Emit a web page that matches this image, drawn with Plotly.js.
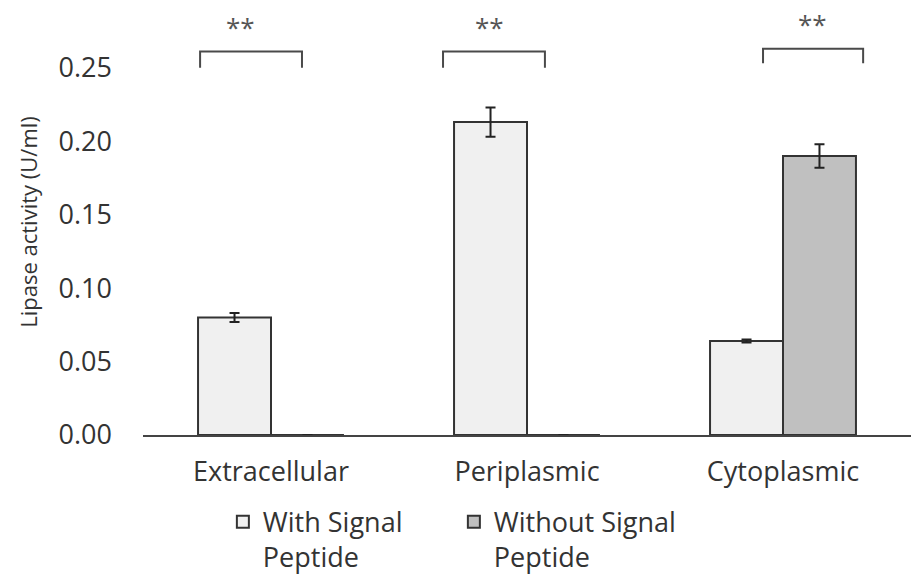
<!DOCTYPE html>
<html>
<head>
<meta charset="utf-8">
<script src="https://cdn.plot.ly/plotly-3.0.1.min.js"></script>
<style>html,body{margin:0;padding:0;background:#fff;}#chart{width:912px;height:574px;}</style>
</head>
<body>
<div id="chart"></div>
<script>
var categories = ["Extracellular", "Periplasmic", "Cytoplasmic"];
var withSignal = [0.080, 0.213, 0.064];
var withSignalErr = [0.003, 0.010, 0.001];
var withoutSignal = [0, 0, 0.190];
var withoutSignalErr = [0, 0, 0.008];
var seriesNames = ["With Signal<br>Peptide", "Without Signal<br>Peptide"];
var yTicks = [0, 0.05, 0.10, 0.15, 0.20, 0.25];
var yTickLabels = ["0.00", "0.05", "0.10", "0.15", "0.20", "0.25"];
var sigLabels = ["**", "**", "**"];

// bracket layout (category index offsets, data y)
var brackets = [
  {left: -0.277, right: 0.121, top: 0.261, leg: 0.250, star: -0.12, starY: 0.278},
  {left: -0.328, right: 0.070, top: 0.261, leg: 0.250, star: -0.145, starY: 0.278},
  {left: -0.078, right: 0.313, top: 0.263, leg: 0.253, star: 0.115, starY: 0.280}
];

var font = "'Open Sans', 'Noto Sans', sans-serif";
var outline = {color: "#333333", width: 2};

var traces = [
  {
    type: "bar", x: categories, y: withSignal, name: seriesNames[0],
    marker: {color: "#f0f0f0", line: outline},
    error_y: {type: "data", array: withSignalErr, visible: true, color: "#222", thickness: 2, width: 5}
  },
  {
    type: "bar", x: categories, y: withoutSignal, name: seriesNames[1],
    marker: {color: "#c0c0c0", line: outline},
    error_y: {type: "data", array: withoutSignalErr, visible: true, color: "#222", thickness: 2, width: 5}
  }
];

var shapes = [];
var annotations = [];
brackets.forEach(function (b, i) {
  shapes.push({
    type: "path", xref: "x", yref: "y",
    path: "M" + (i + b.left) + "," + b.leg + " L" + (i + b.left) + "," + b.top +
          " L" + (i + b.right) + "," + b.top + " L" + (i + b.right) + "," + b.leg,
    line: {color: "#4a4a4a", width: 2}
  });
  annotations.push({
    xref: "x", yref: "y", x: i + b.star, y: b.starY, text: sigLabels[i],
    showarrow: false, font: {family: font, size: 26, color: "#555555"}
  });
});

var layout = {
  width: 912, height: 574,
  margin: {l: 143, r: 1, t: 9, b: 139, autoexpand: false},
  paper_bgcolor: "#ffffff", plot_bgcolor: "#ffffff",
  font: {family: font, size: 27, color: "#333333"},
  barmode: "group", bargap: 0.43, bargroupgap: 0,
  showlegend: true,
  legend: {
    orientation: "h", x: 0.104, y: -0.147, xanchor: "left", yanchor: "top",
    valign: "top", font: {family: font, size: 27, color: "#333333"},
    traceorder: "normal", entrywidth: 186, entrywidthmode: "pixels"
  },
  xaxis: {
    type: "category", showline: true, linecolor: "#444444", linewidth: 2,
    ticks: "", showgrid: false, zeroline: false,
    tickfont: {family: font, size: 27, color: "#333333"},
    ticklabelstandoff: 12, range: [-0.5, 2.5], automargin: false
  },
  yaxis: {
    range: [0, 0.29], tickvals: yTicks, ticktext: yTickLabels,
    showline: false, showgrid: false, zeroline: false, ticks: "",
    tickfont: {family: font, size: 27, color: "#333333"},
    ticklabelstandoff: 30, automargin: false,
    title: {text: "Lipase activity (U/ml)", font: {family: font, size: 22, color: "#333333"}, standoff: 14}
  },
  shapes: shapes,
  annotations: annotations
};

Plotly.newPlot("chart", traces, layout, {staticPlot: true, displayModeBar: false});
</script>
</body>
</html>
